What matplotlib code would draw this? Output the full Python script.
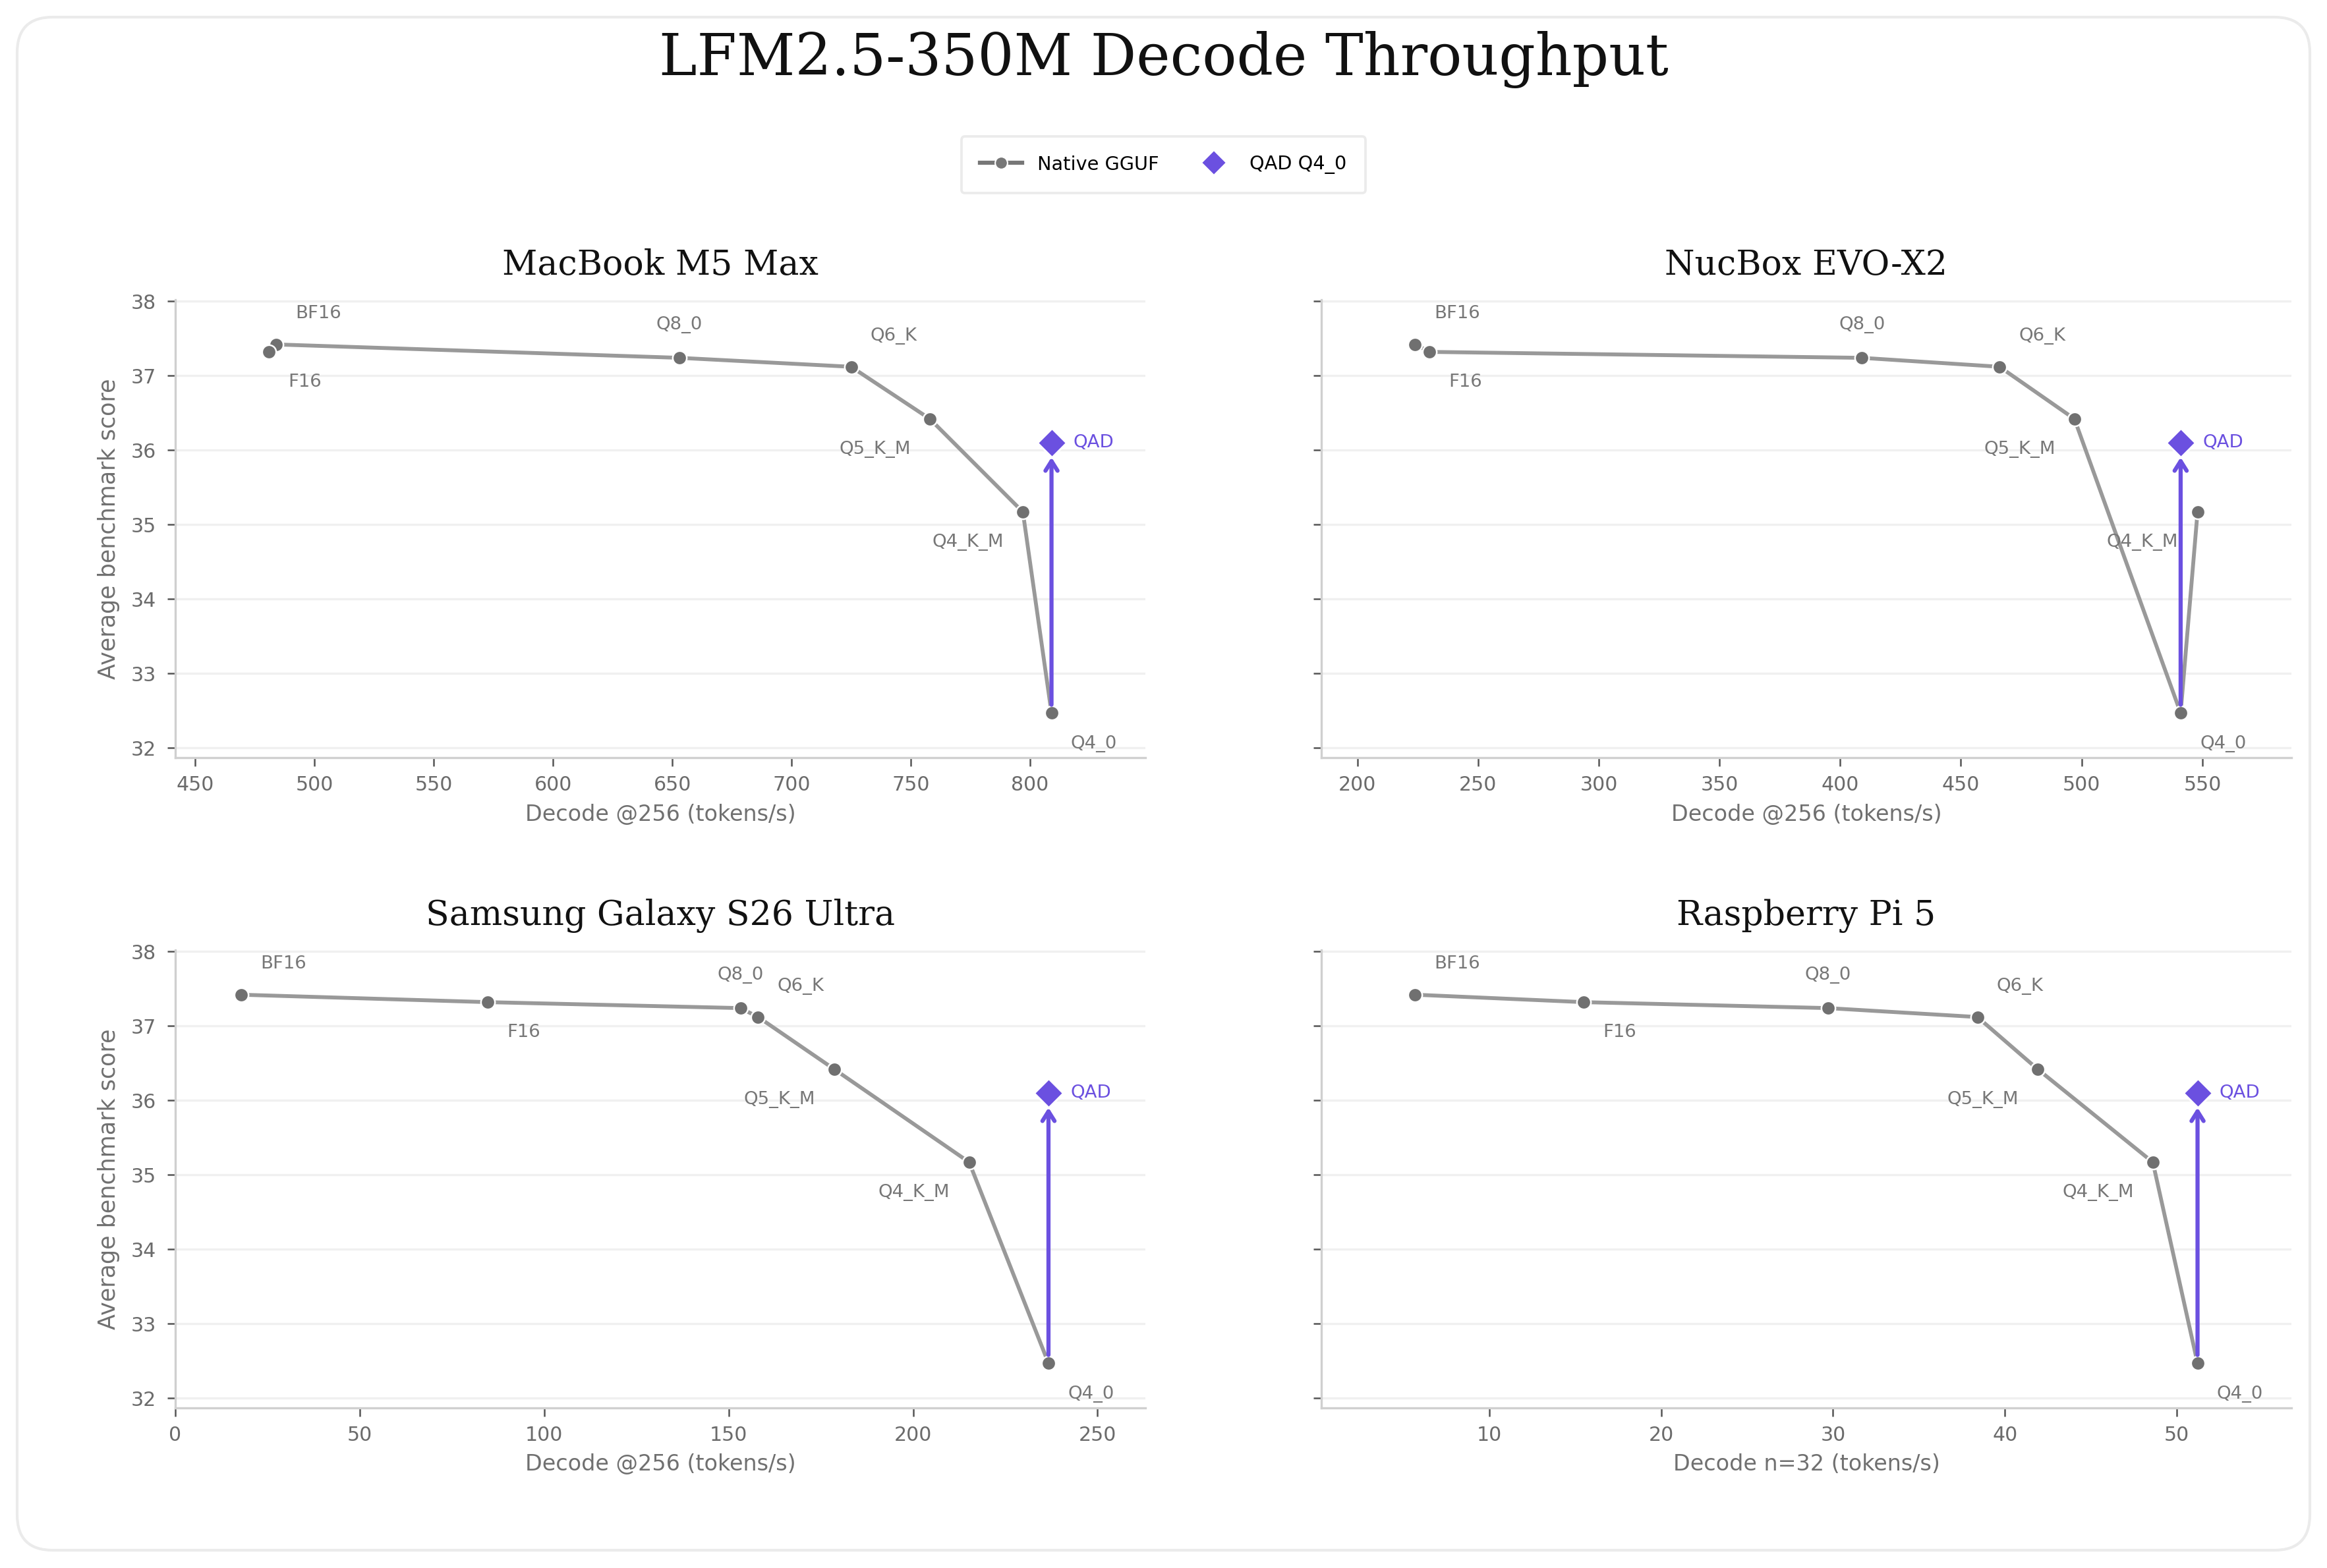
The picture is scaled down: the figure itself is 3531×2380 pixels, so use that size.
import matplotlib
matplotlib.use("Agg")
import matplotlib.pyplot as plt
from matplotlib.lines import Line2D
from matplotlib.patches import FancyBboxPatch
from matplotlib.ticker import MultipleLocator

# ---------------- data ----------------
quants = ["BF16", "F16", "Q8_0", "Q6_K", "Q5_K_M", "Q4_K_M", "Q4_0"]
scores = [37.42, 37.32, 37.24, 37.12, 36.42, 35.17, 32.47]
qad_score = 36.10

devices = ["MacBook M5 Max", "NucBox EVO-X2", "Samsung Galaxy S26 Ultra", "Raspberry Pi 5"]
macbook_tps = [484, 481, 653, 725, 758, 797, 809]
nucbox_tps = [224, 230, 409, 466, 497, 548, 541]
samsung_tps = [17.8, 84.7, 153.2, 158.0, 178.6, 215.2, 236.7]
pi_tps = [5.7, 15.5, 29.7, 38.4, 41.9, 48.6, 51.2]
qad_tps = [809, 541, 236.7, 51.2]
xlabels = ["Decode @256 (tokens/s)", "Decode @256 (tokens/s)",
           "Decode @256 (tokens/s)", "Decode n=32 (tokens/s)"]
xtick_steps = [50, 50, 50, 10]

# ---------------- style ----------------
LINE_C = "#999999"
MARK_C = "#707070"
PURPLE = "#6b50e0"
TICK_C = "#6b6b6b"
LABEL_C = "#777777"

plt.rcParams["font.family"] = ["DejaVu Sans"]

W, H, DPI = 3531, 2380, 300
fig = plt.figure(figsize=(W / DPI, H / DPI), dpi=DPI)
fig.patch.set_facecolor("white")

# rounded figure border
border = FancyBboxPatch((26 / DPI, 27 / DPI), (3505 - 26) / DPI, (2353 - 26) / DPI,
                        boxstyle="round,pad=0,rounding_size=%f" % (54 / DPI),
                        transform=fig.dpi_scale_trans, facecolor="none",
                        edgecolor="#ebebeb", linewidth=1.0, zorder=0)
fig.patches.append(border)

fig.text(0.5, 0.962, "LFM2.5-350M Decode Throughput", ha="center", va="center",
         fontsize=20.8, family="DejaVu Serif", color="#111111")

ax_w = (1738 - 266) / W
ax_h = (1150 - 455) / H
positions = [
    (266 / W, 1 - 1150 / H),
    (2005 / W, 1 - 1150 / H),
    (266 / W, 1 - 2137 / H),
    (2005 / W, 1 - 2137 / H),
]
all_tps = [macbook_tps, nucbox_tps, samsung_tps, pi_tps]

# label offsets (points) & alignment per quant
label_style = {
    "BF16": (7, 8, "left", "bottom"),
    "F16": (7, -8, "left", "top"),
    "Q8_0": (0, 9, "center", "bottom"),
    "Q6_K": (7, 8, "left", "bottom"),
    "Q5_K_M": (-7, -8, "right", "top"),
    "Q4_K_M": (-7, -8, "right", "top"),
    "Q4_0": (7, -8, "left", "top"),
}

ymin = min(scores + [qad_score]) - 0.6
ymax = max(scores + [qad_score]) + 0.6

for i, (dev, tps) in enumerate(zip(devices, all_tps)):
    ax = fig.add_axes([positions[i][0], positions[i][1], ax_w, ax_h])
    # sorted by throughput for line
    order = sorted(range(len(tps)), key=lambda k: tps[k])
    xs = [tps[k] for k in order]
    ys = [scores[k] for k in order]
    ax.plot(xs, ys, color=LINE_C, lw=1.4, zorder=2, solid_capstyle="round")
    ax.plot(tps, scores, ls="none", marker="o", ms=5.1, mfc=MARK_C, mec="white",
            mew=0.6, zorder=3)
    # QAD arrow and diamond
    ax.annotate("", xy=(qad_tps[i], qad_score), xytext=(tps[6], scores[6]),
                arrowprops=dict(arrowstyle="->,head_width=0.22,head_length=0.35",
                                color=PURPLE, lw=1.5, shrinkA=3, shrinkB=5.3),
                zorder=4)
    ax.plot([qad_tps[i]], [qad_score], ls="none", marker="D", ms=7.4, mfc=PURPLE,
            mec="white", mew=0.7, zorder=5)
    ax.annotate("QAD", xy=(qad_tps[i], qad_score), xytext=(8, 0),
                textcoords="offset points", ha="left", va="center",
                fontsize=6.6, color=PURPLE, zorder=6)
    for q, x, y in zip(quants, tps, scores):
        dx, dy, ha, va = label_style[q]
        ax.annotate(q, xy=(x, y), xytext=(dx, dy), textcoords="offset points",
                    ha=ha, va=va, fontsize=6.6, color=LABEL_C, zorder=6)

    lo = min(tps + [qad_tps[i]])
    hi = max(tps + [qad_tps[i]])
    rng = hi - lo
    ax.set_xlim(max(0, lo - 0.12 * rng), hi + 0.12 * rng)
    ax.set_ylim(ymin, ymax)
    ax.xaxis.set_major_locator(MultipleLocator(xtick_steps[i]))
    ax.yaxis.set_major_locator(MultipleLocator(1))

    ax.grid(axis="y", color="#f0f0f0", lw=0.8, zorder=0)
    ax.grid(axis="x", visible=False)
    ax.set_axisbelow(True)
    for s in ["top", "right"]:
        ax.spines[s].set_visible(False)
    for s in ["left", "bottom"]:
        ax.spines[s].set_color("#d0d0d0")
        ax.spines[s].set_linewidth(0.8)
    ax.tick_params(axis="both", colors="#555555", labelcolor=TICK_C,
                   labelsize=7.2, length=3, width=0.6)
    ax.tick_params(axis="x", pad=3.5)
    ax.tick_params(axis="y", pad=4)

    ax.set_title(dev, fontsize=12.5, family="DejaVu Serif", color="#111111", pad=9)
    ax.set_xlabel(xlabels[i], fontsize=8, color="#707070")
    ax.xaxis.set_label_coords(0.5, -0.1)
    if i % 2 == 0:
        ax.set_ylabel("Average benchmark score", fontsize=8.4, color="#707070")
        ax.yaxis.set_label_coords(-0.057, 0.5)
    else:
        ax.tick_params(axis="y", labelleft=False)

handles = [
    Line2D([], [], color="#777777", lw=1.5, marker="o", ms=4.5, mfc="#777777",
           mec="white", mew=0.5),
    Line2D([], [], ls="none", marker="D", ms=6.5, mfc=PURPLE, mec="white", mew=0.5),
]
leg = fig.legend(handles, ["Native GGUF", "QAD Q4_0"], loc="center",
                 bbox_to_anchor=(0.5, 1 - 250 / H), ncol=2, fontsize=6.9,
                 frameon=True, fancybox=True, edgecolor="#e6e6e6",
                 borderpad=1.0, handlelength=2.2, columnspacing=1.8)
leg.get_frame().set_linewidth(0.9)

fig.savefig("out.png", dpi=DPI, facecolor="white")
